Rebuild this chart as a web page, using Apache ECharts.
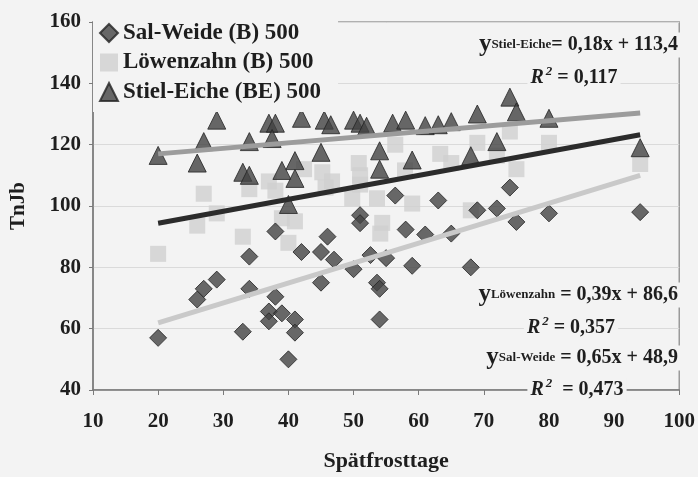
<!DOCTYPE html>
<html>
<head>
<meta charset="utf-8">
<script src="https://cdn.jsdelivr.net/npm/echarts@6/dist/echarts.min.js"></script>
<style>
  html, body { margin: 0; padding: 0; background: #f3f3f3; }
  #chart { width: 698px; height: 477px; }
</style>
</head>
<body>
<div id="chart"></div>
<script>
// Series names (legend) and short names (equation subscripts)
const seriesNames = ['Sal-Weide (B) 500', 'Löwenzahn (B) 500', 'Stiel-Eiche (BE) 500'];
const shortNames = ['Sal-Weide', 'Löwenzahn', 'Stiel-Eiche'];

// [Spätfrosttage, TnJb]
const salWeide = [
  [20, 57], [26, 69.5], [27, 73], [29, 76], [33, 59], [34, 73], [34, 83.5],
  [37, 65.6], [37, 62.4], [38, 70.4], [38, 91.7], [39, 65], [40, 50], [41, 63],
  [41, 58.7], [42, 85], [45, 85], [45, 75], [46, 90], [47, 82.5], [50, 79.4],
  [51, 97], [51, 94.4], [52.6, 84], [55, 83], [53.6, 75], [54, 73], [54, 63],
  [56.4, 103.4], [58, 92.3], [59, 80.5], [61, 90.7], [63, 101.8], [65, 91],
  [68, 80], [69, 98.6], [72, 99.2], [74, 106], [75, 94.8], [80, 97.6], [94, 98]
];
const loewenzahn = [
  [20, 84.4], [26, 93.6], [27, 104], [29, 97.6], [33, 90], [34, 105.5],
  [37, 108], [38, 105], [39, 96], [40, 88], [41, 95], [42.4, 112], [45.2, 111],
  [46.7, 108], [45.7, 106], [49.8, 102.5], [50.8, 114], [51, 110], [51, 107],
  [53.6, 102.5], [54.4, 94.5], [54.1, 91], [56.4, 120], [57.9, 111.6],
  [59, 100.8], [63.3, 117], [65, 114], [68, 98.6], [69, 120.6], [72, 116.4],
  [74, 124.3], [75, 112], [80, 120.6], [94, 113.7]
];
const stielEiche = [
  [20, 116.5], [26, 114], [27, 121], [29, 128], [33, 111], [34, 110], [34, 121],
  [37, 127], [38, 127], [37.5, 122], [39, 111.6], [40, 100.5], [41, 114.8],
  [41, 109], [42, 128.6], [45, 117.5], [45.5, 128], [46.5, 126.5], [50, 128],
  [51, 127], [52, 126], [54, 118], [54, 112], [56, 127], [58, 128], [59, 115],
  [61, 126.2], [63, 126.5], [65, 127.5], [68, 116.4], [69, 130], [72, 121],
  [74, 135.5], [75, 130.7], [80, 128.6], [94, 119]
];

// Linear regression results: y = slope * x + intercept
const slopes = [0.65, 0.39, 0.18];
const intercepts = [48.9, 86.6, 113.4];
const rSquared = [0.473, 0.357, 0.117];

const dataSets = [salWeide, loewenzahn, stielEiche];
const serif = '"Liberation Serif", "Times New Roman", serif';
const ink = '#1e1e1e';

function fmt(v, d) { return v.toFixed(d).replace('.', ','); }

// Trend line endpoints over each series' x range
function trend(i) {
  const xs = dataSets[i].map(p => p[0]);
  const x0 = Math.min(...xs), x1 = Math.max(...xs);
  return [[x0, slopes[i] * x0 + intercepts[i]], [x1, slopes[i] * x1 + intercepts[i]]];
}

const trendColors = ['#c9c9c9', '#2b2b2b', '#9c9c9c'];

// Equation label placement (index matches series order)
const eqLayout = [
  { x: 680, y: 358, rx: 577, ry: 390, sep: ' ', rgap: '  ' },
  { x: 680, y: 295, rx: 571, ry: 328, sep: ' ', rgap: ' ' },
  { x: 680, y: 45, rx: 574, ry: 78, sep: '', rgap: ' ' }
];

const richEq = {
  y: { fontFamily: serif, fontWeight: 'bold', fontSize: 25, fill: ink },
  s: { fontFamily: serif, fontWeight: 'bold', fontSize: 13, fill: ink },
  e: { fontFamily: serif, fontWeight: 'bold', fontSize: 20, fill: ink }
};
const richR = {
  r: { fontFamily: serif, fontWeight: 'bold', fontStyle: 'italic', fontSize: 20, fill: ink },
  p: { fontFamily: serif, fontWeight: 'bold', fontStyle: 'italic', fontSize: 13, fill: ink, padding: [0, 0, 12, 2] },
  e: { fontFamily: serif, fontWeight: 'bold', fontSize: 20, fill: ink }
};

const graphics = [];
eqLayout.forEach((L, i) => {
  graphics.push({
    type: 'text', x: L.x, y: L.y, z: 10,
    style: {
      text: '{y|y}{s|' + shortNames[i] + '}{e|' + L.sep + '= ' + fmt(slopes[i], 2) + 'x + ' + fmt(intercepts[i], 1) + '}',
      rich: richEq, align: 'right', verticalAlign: 'middle',
      backgroundColor: '#f3f3f3', padding: [0, 2, 0, 2]
    }
  });
  graphics.push({
    type: 'text', x: L.rx, y: L.ry, z: 10,
    style: {
      text: '{r|R}{p|2}{e|' + L.rgap + '= ' + fmt(rSquared[i], 3) + '}',
      rich: richR, align: 'center', verticalAlign: 'middle',
      backgroundColor: '#f3f3f3', padding: [0, 3, 0, 3]
    }
  });
});

const markerStyles = [
  { symbol: 'diamond', symbolSize: 17, itemStyle: { color: '#434343', borderColor: '#232323', borderWidth: 1 } },
  { symbol: 'rect', symbolSize: 16, itemStyle: { color: '#d0d0d0' } },
  { symbol: 'triangle', symbolSize: 18, itemStyle: { color: '#424242', borderColor: '#232323', borderWidth: 1 } }
];

// draw order: squares, diamonds, triangles
const drawOrder = [1, 0, 2];
const series = [];
drawOrder.forEach(i => {
  series.push(Object.assign({
    name: seriesNames[i], type: 'scatter', data: dataSets[i], z: 2
  }, markerStyles[i]));
});
[0, 1, 2].forEach(i => {
  series.push({
    type: 'line', data: trend(i), symbol: 'none', silent: true, z: 3,
    lineStyle: { color: trendColors[i], width: 5 }
  });
});

const chart = echarts.init(document.getElementById('chart'), null, { renderer: 'canvas' });
chart.setOption({
  animation: false,
  backgroundColor: '#f3f3f3',
  grid: { left: 93, right: 16, top: 22, bottom: 80, show: true, borderColor: '#9a9a9a', borderWidth: 1.5 },
  legend: {
    orient: 'vertical', left: 93, top: 13, z: 6,
    padding: [8, 17, 8, 6],
    backgroundColor: '#f3f3f3',
    itemWidth: 18, itemHeight: 18, itemGap: 5.5,
    textStyle: { fontFamily: serif, fontWeight: 'bold', fontSize: 23, lineHeight: 24, color: ink },
    data: [
      { name: seriesNames[0], icon: 'diamond', itemStyle: { color: '#434343' } },
      { name: seriesNames[1], icon: 'rect', itemStyle: { color: '#d0d0d0' } },
      { name: seriesNames[2], icon: 'triangle', itemStyle: { color: '#424242' } }
    ]
  },
  xAxis: {
    type: 'value', min: 10, max: 100, interval: 10,
    axisLine: { show: true, onZero: false, lineStyle: { color: '#7a7a7a', width: 1.5 } },
    axisTick: { show: true, length: 5, lineStyle: { color: '#7a7a7a' } },
    splitLine: { show: false },
    axisLabel: { fontFamily: serif, fontWeight: 'bold', fontSize: 21, color: ink, margin: 21 },
    name: 'Spätfrosttage', nameLocation: 'middle', nameGap: 60,
    nameTextStyle: { fontFamily: serif, fontWeight: 'bold', fontSize: 22, color: ink }
  },
  yAxis: {
    type: 'value', min: 40, max: 160, interval: 20,
    axisLine: { show: true, onZero: false, lineStyle: { color: '#7a7a7a', width: 1.5 } },
    axisTick: { show: true, length: 4, lineStyle: { color: '#7a7a7a' } },
    splitLine: { show: true, lineStyle: { color: '#dadada', width: 1 } },
    axisLabel: { fontFamily: serif, fontWeight: 'bold', fontSize: 21, color: ink, margin: 12 },
    name: 'TnJb', nameLocation: 'middle', nameGap: 64,
    nameTextStyle: { fontFamily: serif, fontWeight: 'bold', fontSize: 21, color: ink }
  },
  graphic: graphics,
  series: series
});
</script>
</body>
</html>
